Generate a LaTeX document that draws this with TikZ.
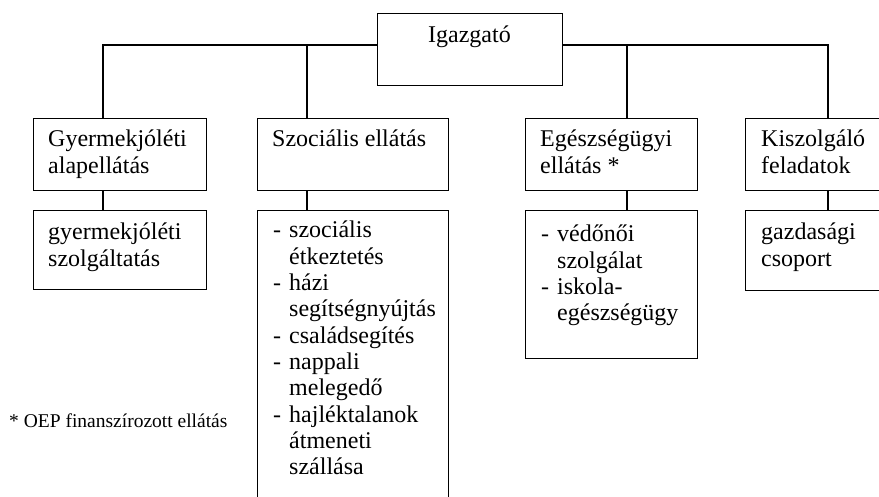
\documentclass[tikz,border=0pt]{standalone}
\usepackage{fontspec}
\setmainfont{Liberation Serif}
\begin{document}
\begin{tikzpicture}[x=1pt,y=-1pt]
	\tikzstyle{doboz}=[draw,line width=1.1pt,rectangle,inner sep=0pt,anchor=north west]
	\tikzstyle{felirat}=[anchor=base west,inner sep=0pt,font=\fontsize{24}{26.3}\selectfont]
	\tikzstyle{vonal}=[line width=1.1pt]
	\useasboundingbox (0,0) rectangle (879,497);
	\clip (0,0) rectangle (879,497);
	\node[doboz,minimum width=185pt,minimum height=72pt] (igazgato) at (377,13){};
	\node[doboz,minimum width=173pt,minimum height=72pt] (gyal) at (33,118){};
	\node[doboz,minimum width=191pt,minimum height=72pt] (szoc) at (257,118){};
	\node[doboz,minimum width=172pt,minimum height=72pt] (eg) at (525,118){};
	\node[doboz,minimum width=166pt,minimum height=72pt] (kisz) at (745,118){};
	\node[doboz,minimum width=173pt,minimum height=79pt] (gysz) at (33,210){};
	\node[doboz,minimum width=191pt,minimum height=320pt] (szlista) at (257,210){};
	\node[doboz,minimum width=172pt,minimum height=148pt] (eglista) at (525,210){};
	\node[doboz,minimum width=166pt,minimum height=80pt] (kcs) at (745,210){};
	\node[felirat,anchor=base] (igazgato-t) at (469.5,43){Igazgató};
	\node[felirat] (gyal-t) at (48,147){\begin{tabular}[t]{@{}l@{}}Gyermekjóléti\\alapellátás\end{tabular}};
	\node[felirat] (szoc-t) at (272,147){Szociális ellátás};
	\node[felirat] (eg-t) at (540,147){\begin{tabular}[t]{@{}l@{}}Egészségügyi\\ellátás *\end{tabular}};
	\node[felirat] (kisz-t) at (761,147){\begin{tabular}[t]{@{}l@{}}Kiszolgáló\\feladatok\end{tabular}};
	\node[felirat] (gysz-t) at (48,240){\begin{tabular}[t]{@{}l@{}}gyermekjóléti\\szolgáltatás\end{tabular}};
	\node[felirat] (szlista-t) at (273,238){\begin{tabular}[t]{@{}l@{\hspace{8pt}}l@{}}-&szociális\\&étkeztetés\\-&házi\\&segítségnyújtás\\-&családsegítés\\-&nappali\\&melegedő\\-&hajléktalanok\\&átmeneti\\&szállása\end{tabular}};
	\node[felirat] (eglista-t) at (541,242){\begin{tabular}[t]{@{}l@{\hspace{8pt}}l@{}}-&védőnői\\&szolgálat\\-&iskola-\\&egészségügy\end{tabular}};
	\node[felirat] (kcs-t) at (761,240){\begin{tabular}[t]{@{}l@{}}gazdasági\\csoport\end{tabular}};
	\node[felirat,font=\fontsize{19.5}{22}\selectfont] (megj) at (9,427){* OEP finanszírozott ellátás};
	\coordinate (ag1) at (103,45);
	\coordinate (ag2) at (307,45);
	\coordinate (ag3) at (627,45);
	\coordinate (ag4) at (828,45);
	\draw[vonal] (igazgato.west |- ag1) -- (ag1) -- (gyal.north -| ag1);
	\draw[vonal] (ag2) -- (szoc.north -| ag2);
	\draw[vonal] (igazgato.east |- ag3) -- (ag4) -- (kisz.north -| ag4);
	\draw[vonal] (ag3) -- (eg.north -| ag3);
	\draw[vonal] (gyal.south -| ag1) -- (gysz.north -| ag1);
	\draw[vonal] (szoc.south -| ag2) -- (szlista.north -| ag2);
	\draw[vonal] (eg.south -| ag3) -- (eglista.north -| ag3);
	\draw[vonal] (kisz.south -| ag4) -- (kcs.north -| ag4);
\end{tikzpicture}
\end{document}
